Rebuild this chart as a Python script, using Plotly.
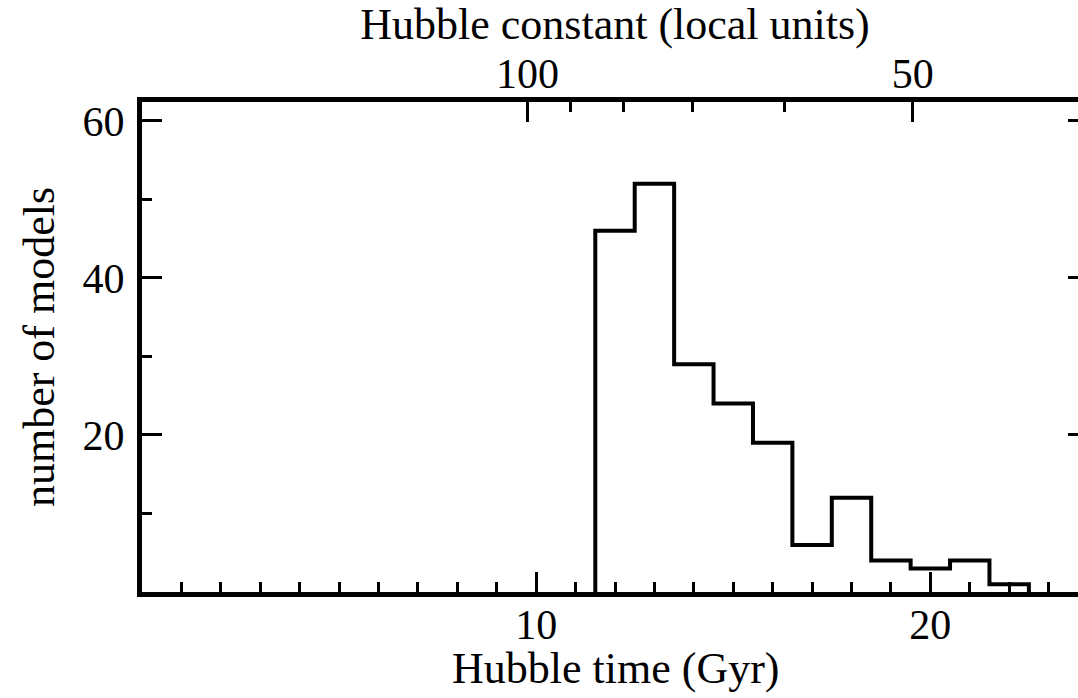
import plotly.graph_objects as go

# Histogram of Hubble times (1 Gyr bins, left edges) and model counts
bin_left_edges = [11.5, 12.5, 13.5, 14.5, 15.5, 16.5, 17.5, 18.5, 19.5, 20.5, 21.5]
model_counts = [46, 52, 29, 24, 19, 6, 12, 4, 3, 4, 1]
bin_width = 1.0

# Axis ticks
time_major_ticks = [10, 20]
count_major_ticks = [20, 40, 60]
hubble_major_ticks = [100, 50]
hubble_minor_ticks = [90, 80, 70, 60]
HUBBLE_TIME_FACTOR = 977.8  # Gyr * (km/s/Mpc)

x_range = [0, 24]
y_range = [0, 62.4]

# Step outline of the histogram
step_x = [bin_left_edges[0]] + bin_left_edges + [bin_left_edges[-1] + bin_width]
step_y = [0] + model_counts + [0]

FONT = "Liberation Serif"
FS = 44
FS_TICK = 42
LW_AXIS = 5
LW_HIST = 4

fig = go.Figure()
fig.add_trace(go.Scatter(
    x=step_x, y=step_y, mode="lines",
    line=dict(shape="hv", color="black", width=LW_HIST),
    showlegend=False, hoverinfo="skip", cliponaxis=False,
))
# invisible trace to activate the top / right axes
fig.add_trace(go.Scatter(x=[None], y=[None], xaxis="x2", yaxis="y2",
                         showlegend=False, hoverinfo="skip"))

tick_common = dict(ticks="inside", tickwidth=3, tickcolor="black",
                   showline=True, linewidth=LW_AXIS, linecolor="black",
                   showgrid=False, zeroline=False, automargin=False,
                   tickfont=dict(family=FONT, size=FS_TICK, color="black"))
minor_common = dict(ticklen=10, tickwidth=3, tickcolor="black", ticks="inside")

fig.update_layout(
    width=1100, height=698,
    margin=dict(l=142, r=12, t=102, b=106),
    paper_bgcolor="white", plot_bgcolor="white",
    font=dict(family=FONT, color="black", size=FS),
    xaxis=dict(
        range=x_range, tickmode="array", tickvals=time_major_ticks,
        ticklen=20, ticklabelstandoff=-8,
        minor=dict(dtick=1, tick0=0, **minor_common),
        **tick_common,
    ),
    xaxis2=dict(
        range=x_range, overlaying="x", side="top", anchor="y",
        tickmode="array",
        tickvals=[HUBBLE_TIME_FACTOR / h for h in hubble_major_ticks],
        ticktext=[str(h) for h in hubble_major_ticks],
        ticklen=20, ticklabelstandoff=-8,
        minor=dict(tickmode="array",
                   tickvals=[HUBBLE_TIME_FACTOR / h for h in hubble_minor_ticks],
                   **minor_common),
        title=dict(text="Hubble constant (local units)", font=dict(family=FONT, size=FS), standoff=0),
        **tick_common,
    ),
    yaxis=dict(
        range=y_range, tickmode="array", tickvals=count_major_ticks,
        ticklen=20, ticklabelstandoff=4,
        minor=dict(dtick=10, tick0=0, **minor_common),
        title=dict(text="number of models", font=dict(family=FONT, size=FS), standoff=16),
        **tick_common,
    ),
    yaxis2=dict(
        range=y_range, overlaying="y", side="right", anchor="x",
        tickmode="array", tickvals=count_major_ticks, showticklabels=False,
        ticklen=20,
        minor=dict(dtick=10, tick0=0, **minor_common),
        **tick_common,
    ),
    annotations=[dict(
        text="Hubble time (Gyr)", xref="paper", yref="paper",
        x=0.5, y=0, xanchor="center", yanchor="top", yshift=-50,
        showarrow=False, font=dict(family=FONT, size=FS, color="black"),
    )],
)

fig.write_html(
    "out.html",
    post_script="document.body.style.margin='0';document.body.style.overflow='hidden';"
                "document.documentElement.style.overflow='hidden';",
)
